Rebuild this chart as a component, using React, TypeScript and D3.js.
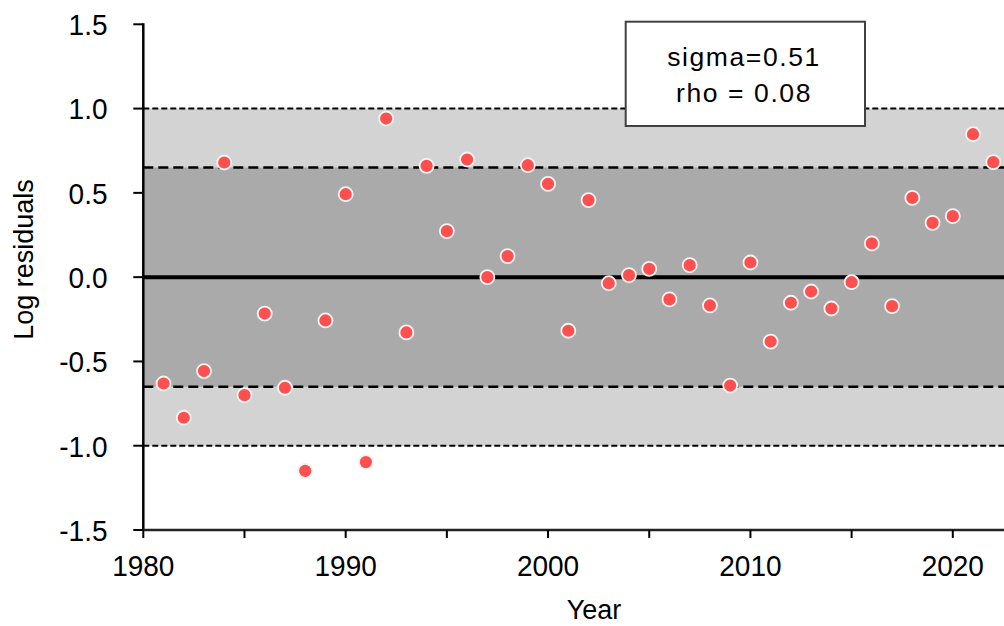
import React from "react";
import * as d3 from "d3";

const years: number[] = [
  1981, 1982, 1983, 1984, 1985, 1986, 1987, 1988, 1989, 1990, 1991, 1992, 1993, 1994,
  1995, 1996, 1997, 1998, 1999, 2000, 2001, 2002, 2003, 2004, 2005, 2006, 2007, 2008,
  2009, 2010, 2011, 2012, 2013, 2014, 2015, 2016, 2017, 2018, 2019, 2020, 2021, 2022,
];
const residuals: number[] = [
  -0.631, -0.834, -0.557, 0.68, -0.7, -0.216, -0.656, -1.149, -0.257, 0.492, -1.097, 0.941,
  -0.328, 0.66, 0.273, 0.698, 0.0, 0.125, 0.664, 0.553, -0.318, 0.457, -0.036, 0.012,
  0.049, -0.132, 0.071, -0.168, -0.643, 0.087, -0.382, -0.152, -0.085, -0.186, -0.03,
  0.2, -0.172, 0.47, 0.322, 0.362, 0.848, 0.682,
];
const yTicks: number[] = [-1.5, -1.0, -0.5, 0.0, 0.5, 1.0, 1.5];
const xMajorTicks: number[] = [1980, 1990, 2000, 2010, 2020];
const xMinorTicks: number[] = [1985, 1995, 2005, 2015];
const outerBand = 1.0;
const innerBand = 0.65;
const legendLines: string[] = ["sigma=0.51", "rho = 0.08"];

const W = 1004;
const H = 626;
const left = 143.3;
const right = 1004;
const top = 24.3;
const bottom = 530;

export default function App() {
  const x = d3.scaleLinear().domain([1980, 2022.53]).range([left, right]);
  const y = d3.scaleLinear().domain([-1.5, 1.5]).range([bottom, top]);
  const font = "Arial, 'Liberation Sans', sans-serif";

  return (
    <svg
      width={W}
      height={H}
      style={{ position: "absolute", left: 0, top: 0, background: "#fff" }}
      fontFamily={font}
    >
      {/* bands */}
      <rect x={left} y={y(outerBand)} width={right - left} height={y(-outerBand) - y(outerBand)} fill="#d3d3d3" />
      <rect x={left} y={y(innerBand)} width={right - left} height={y(-innerBand) - y(innerBand)} fill="#aaaaaa" />
      {/* dashed lines */}
      {[outerBand, -outerBand].map((v) => (
        <line key={"o" + v} x1={left} x2={right} y1={y(v)} y2={y(v)} stroke="#000" strokeWidth={2} strokeDasharray="6,3" />
      ))}
      {[innerBand, -innerBand].map((v) => (
        <line key={"i" + v} x1={left} x2={right} y1={y(v)} y2={y(v)} stroke="#000" strokeWidth={2.5} strokeDasharray="10,5" />
      ))}
      {/* zero line */}
      <line x1={left} x2={right} y1={y(0)} y2={y(0)} stroke="#000" strokeWidth={4} />

      {/* y axis */}
      <line x1={left} x2={left} y1={top - 1} y2={bottom + 1} stroke="#000" strokeWidth={2.5} />
      {yTicks.map((t) => (
        <g key={"yt" + t}>
          <line x1={left - 10} x2={left} y1={y(t)} y2={y(t)} stroke="#000" strokeWidth={2} />
          <text
            transform={`translate(107.5,${y(t)}) scale(1,1.08)`}
            dy="0.36em"
            textAnchor="end"
            fontSize={28}
            fill="#000"
          >
            {t.toFixed(1)}
          </text>
        </g>
      ))}
      {/* x axis */}
      <line x1={left} x2={right} y1={bottom} y2={bottom} stroke="#222" strokeWidth={2.5} />
      {[...xMajorTicks, ...xMinorTicks].map((t) => (
        <line key={"xt" + t} x1={x(t)} x2={x(t)} y1={bottom} y2={bottom + 8} stroke="#000" strokeWidth={2} />
      ))}
      {xMajorTicks.map((t) => (
        <text
          key={"xl" + t}
          transform={`translate(${x(t)},576) scale(1,1.08)`}
          textAnchor="middle"
          fontSize={28}
          fill="#000"
        >
          {t}
        </text>
      ))}

      {/* axis labels */}
      <text x={594} y={618.5} textAnchor="middle" fontSize={27} fill="#000">
        Year
      </text>
      <text transform={`translate(33,259.5) rotate(-90)`} textAnchor="middle" fontSize={27} fill="#000">
        Log residuals
      </text>

      {/* points */}
      {years.map((yr, i) => (
        <circle key={"p" + yr} cx={x(yr)} cy={y(residuals[i])} r={7} fill="#ff4f4f" stroke="#f4f4f4" strokeWidth={1.8} />
      ))}

      {/* legend */}
      <rect x={625.7} y={21.7} width={239.3} height={104.3} fill="#fff" stroke="#404040" strokeWidth={2} />
      {legendLines.map((s, i) => (
        <text key={"lg" + i} x={744} y={66 + i * 35.5} textAnchor="middle" fontSize={26.5} letterSpacing={1.6} fill="#000">
          {s}
        </text>
      ))}
    </svg>
  );
}
